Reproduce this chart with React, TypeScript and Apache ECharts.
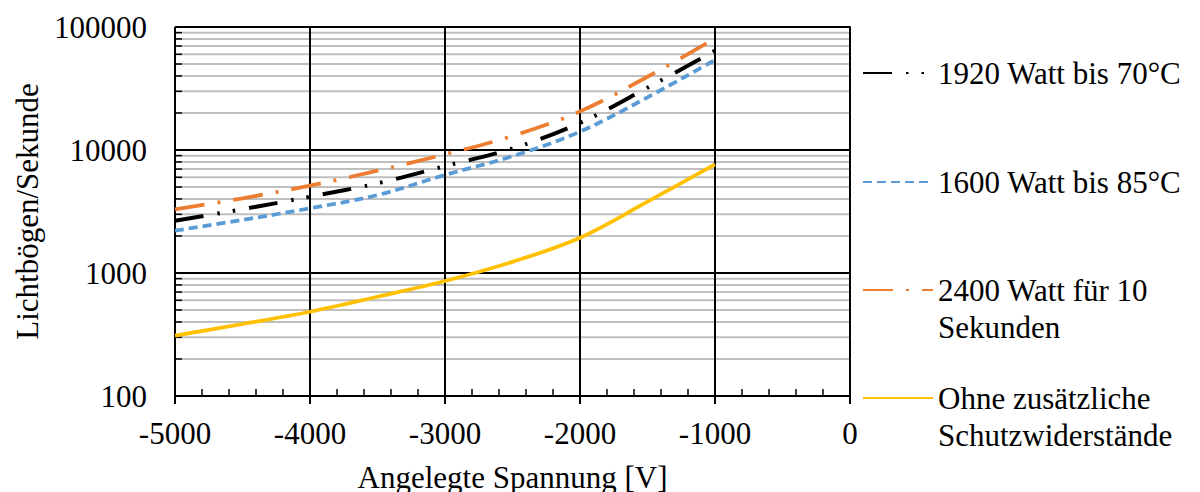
import React, { useEffect, useRef } from "react";
import * as echarts from "echarts";

const FONT = '"Liberation Serif", "Times New Roman", serif';

const xValues = [-5000, -4500, -4000, -3500, -3000, -2500, -2000, -1500, -1000];
const series1920 = [2660, 3300, 4170, 5360, 7400, 10300, 16600, 32100, 64000];
const series1600 = [2210, 2700, 3360, 4300, 6270, 8900, 14100, 26800, 54000];
const series2400 = [3290, 4050, 5130, 6790, 9230, 13000, 20600, 39400, 80900];
const seriesOhne = [310, 385, 484, 641, 861, 1232, 1936, 3800, 7650];

const seriesNames = [
  "1920 Watt bis 70°C",
  "1600 Watt bis 85°C",
  "2400 Watt für 10 Sekunden",
  "Ohne zusätzliche Schutzwiderstände",
];
const legendLabels = [
  "1920 Watt bis 70°C",
  "1600 Watt bis 85°C",
  "\n2400 Watt für 10\nSekunden",
  "\nOhne zusätzliche\nSchutzwiderstände",
];
const xTickLabels = ["-5000", "-4000", "-3000", "-2000", "-1000", "0"];
const yTickLabels = ["100", "1000", "10000", "100000"];
const minorGridValues = [
  200, 300, 400, 500, 600, 700, 800, 900,
  2000, 3000, 4000, 5000, 6000, 7000, 8000, 9000,
  20000, 30000, 40000, 50000, 60000, 70000, 80000, 90000,
];

const X_MIN = -5000;
const X_MAX = 0;

export default function App() {
  const ref = useRef<HTMLDivElement>(null);
  useEffect(() => {
    if (!ref.current) return;
    const chart = echarts.init(ref.current, null, { renderer: "svg" });
    const values = [series1920, series1600, series2400, seriesOhne];
    const colors = ["#000000", "#5B9BD5", "#ED7D31", "#FFC000"];
    const dashes: any[] = [[29, 14, 2.5, 13, 2.5, 14], [9, 5], [30, 13, 3, 13], "solid"];
    const widths = [4, 3.75, 3.75, 3.75];
    const legendTops = [54.5, 163.5, 234.5, 342.5];

    const lineSeries = values.map((vals, i) => ({
      name: seriesNames[i],
      type: "line",
      data: xValues.map((x, j) => [x, vals[j]]),
      symbol: "none",
      showSymbol: false,
      smooth: 0.35,
      lineStyle: { color: colors[i], width: widths[i], type: dashes[i], cap: "butt" },
      itemStyle: { color: colors[i] },
      z: 3,
    }));

    const option: any = {
      animation: false,
      grid: {
        left: 175,
        right: 350,
        top: 27,
        bottom: 96,
        containLabel: false,
        outerBoundsMode: "none",
      },
      xAxis: [
        {
          type: "value",
          min: X_MIN,
          max: X_MAX,
          interval: 1000,
          position: "bottom",
          name: "Angelegte Spannung [V]",
          nameLocation: "middle",
          nameGap: 66,
          nameTextStyle: { fontSize: 31, fontFamily: FONT, color: "#000" },
          axisLine: { lineStyle: { color: "#000", width: 2 } },
          axisTick: { show: true, inside: false, length: 8, lineStyle: { color: "#000", width: 2 } },
          axisLabel: {
            margin: 22,
            fontSize: 31,
            fontFamily: FONT,
            color: "#000",
            formatter: (v: number) => xTickLabels[Math.round((v - X_MIN) / 1000)] ?? String(v),
          },
          splitLine: { show: true, lineStyle: { color: "#000", width: 2 } },
        },
        {
          type: "value",
          min: X_MIN,
          max: X_MAX,
          interval: 1000,
          position: "bottom",
          axisLine: { show: false },
          axisLabel: { show: false },
          splitLine: { show: false },
          axisTick: { show: false, inside: true },
          minorTick: { show: true, splitNumber: 5, length: 7, lineStyle: { color: "#000", width: 1.5 } },
        },
      ],
      yAxis: {
        type: "log",
        logBase: 10,
        min: 100,
        max: 100000,
        name: "Lichtbögen/Sekunde",
        nameLocation: "middle",
        nameGap: 130,
        nameTextStyle: { fontSize: 31, fontFamily: FONT, color: "#000" },
        axisLine: { show: true, lineStyle: { color: "#000", width: 2 } },
        axisTick: { show: true, inside: false, length: 8, lineStyle: { color: "#000", width: 2 } },
        axisLabel: {
          margin: 28,
          fontSize: 31,
          fontFamily: FONT,
          color: "#000",
          formatter: (v: number) => yTickLabels[Math.round(Math.log10(v)) - 2] ?? String(v),
        },
        splitLine: { show: true, lineStyle: { color: "#000", width: 2 } },
      },
      legend: seriesNames.map((name, i) => ({
        data: [name],
        left: 862,
        top: legendTops[i],
        orient: "vertical",
        itemWidth: 70,
        itemHeight: 14,
        itemGap: 0,
        padding: 0,
        selectedMode: false,
        itemStyle: { opacity: 0 },
        formatter: () => legendLabels[i],
        textStyle: {
          fontSize: 31,
          fontFamily: FONT,
          color: "#000",
          lineHeight: 37,
        },
      })),
      series: [
        {
          type: "custom",
          name: "minorGrid",
          silent: true,
          z: -1,
          data: minorGridValues.map((v) => [X_MIN, v]),
          encode: { x: 0, y: 1 },
          renderItem: (params: any, api: any) => {
            const v = api.value(1);
            const a = api.coord([X_MIN, v]);
            const b = api.coord([X_MAX, v]);
            return {
              type: "group",
              children: [
                {
                  type: "line",
                  shape: { x1: a[0], y1: a[1], x2: b[0], y2: b[1] },
                  style: { stroke: "#BFBFBF", lineWidth: 2 },
                },
                {
                  type: "line",
                  shape: { x1: a[0], y1: a[1], x2: a[0] + 7, y2: a[1] },
                  style: { stroke: "#000", lineWidth: 1.5 },
                },
              ],
            };
          },
        },
        ...lineSeries,
      ],
    };
    chart.setOption(option);
    return () => chart.dispose();
  }, []);
  return (
    <div
      ref={ref}
      style={{ position: "fixed", left: 0, top: 0, width: 1200, height: 492, background: "#fff" }}
    />
  );
}
